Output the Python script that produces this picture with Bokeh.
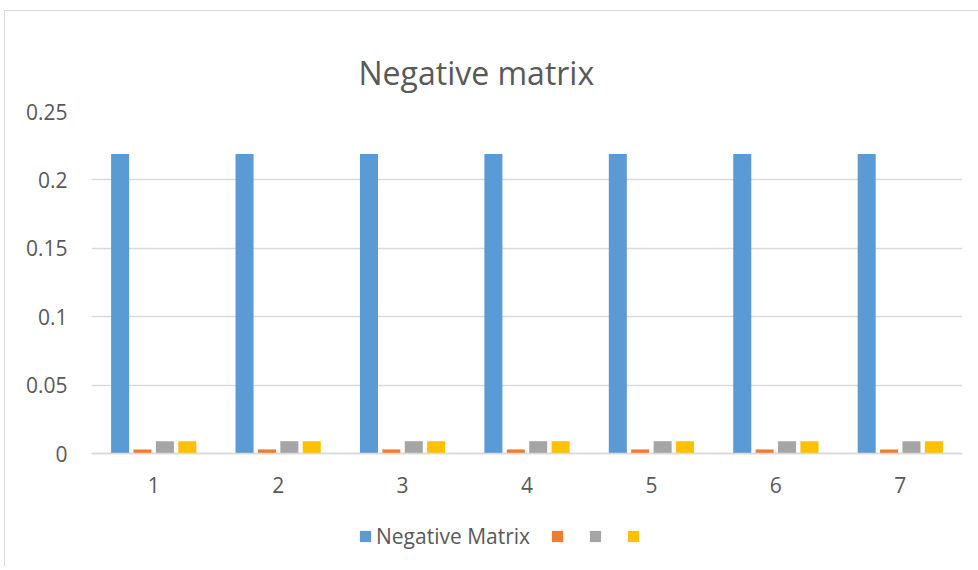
from bokeh.plotting import figure
from bokeh.models import (ColumnDataSource, Legend, LegendItem, FixedTicker,
                          CustomJSTickFormatter)
from bokeh.transform import dodge
from bokeh.embed import file_html
from bokeh.resources import INLINE

# chart data
categories = [1, 2, 3, 4, 5, 6, 7]
negative_matrix = [0.219, 0.219, 0.219, 0.219, 0.219, 0.219, 0.219]
series_2 = [0.003, 0.003, 0.003, 0.003, 0.003, 0.003, 0.003]
series_3 = [0.009, 0.009, 0.009, 0.009, 0.009, 0.009, 0.009]
series_4 = [0.009, 0.009, 0.009, 0.009, 0.009, 0.009, 0.009]
y_ticks = [0, 0.05, 0.1, 0.15, 0.2, 0.25]
series_names = ["Negative Matrix", " ", " ", " "]
colors = ["#5B9BD5", "#ED7D31", "#A5A5A5", "#FFC000"]

FONT = "Open Sans"
TEXT = "#595959"
GRID = "#D9D9D9"

src = ColumnDataSource(dict(x=categories, s1=negative_matrix, s2=series_2,
                            s3=series_3, s4=series_4))

# the frame extends below zero so the category labels and legend live inside it
p = figure(frame_width=871, frame_height=455,
           x_range=(0.5, 7.5), y_range=(-0.0826, 0.25),
           output_backend="svg", toolbar_location=None,
           title="Negative matrix",
           min_border_left=86, min_border_right=17, min_border_top=100,
           min_border_bottom=0,
           margin=(10, 0, 0, 4),
           styles={"border-left": "1px solid #D9D9D9",
                   "border-top": "1px solid #D9D9D9"})

p.title.align = "left"
p.title.text_font = FONT
p.title.text_font_size = "32px"
p.title.text_font_style = "normal"
p.title.text_color = TEXT
p.title.offset = 267
p.title.standoff = 36

offsets = [-0.27, -0.09, 0.09, 0.27]
fields = ["s1", "s2", "s3", "s4"]
renderers = []
for f, off, c in zip(fields, offsets, colors):
    r = p.vbar(x=dodge("x", off), top=f, width=0.145, source=src,
               fill_color=c, line_color=None)
    renderers.append(r)

p.outline_line_color = None
p.background_fill_color = "white"
p.border_fill_color = "white"

# y axis
p.yaxis.ticker = FixedTicker(ticks=y_ticks)
p.yaxis.formatter = CustomJSTickFormatter(code="return String(Math.round(tick*100)/100);")
p.yaxis.axis_line_color = None
p.yaxis.major_tick_line_color = None
p.yaxis.minor_tick_line_color = None
p.yaxis.major_label_text_font = FONT
p.yaxis.major_label_text_font_size = "21px"
p.yaxis.major_label_text_color = TEXT
p.yaxis.major_label_standoff = 18
p.ygrid.grid_line_color = GRID
p.ygrid.grid_line_width = 1.3

# x axis drawn along the zero line
p.xaxis.fixed_location = 0
p.xaxis.ticker = FixedTicker(ticks=categories)
p.xaxis.axis_line_color = GRID
p.xaxis.axis_line_width = 1.5
p.xaxis.major_tick_line_color = None
p.xaxis.minor_tick_line_color = None
p.xaxis.major_label_text_font = FONT
p.xaxis.major_label_text_font_size = "21px"
p.xaxis.major_label_text_color = TEXT
p.xaxis.major_label_standoff = 17
p.xgrid.grid_line_color = None

legend = Legend(items=[LegendItem(label=n, renderers=[r])
                       for n, r in zip(series_names, renderers)],
                orientation="horizontal", location=(267, 16),
                label_text_font=FONT, label_text_font_size="21px",
                label_text_color=TEXT, glyph_width=14, glyph_height=14,
                label_standoff=4, label_width=0, spacing=20,
                border_line_color=None,
                background_fill_alpha=0, margin=0, padding=0)
p.add_layout(legend)

open("out.html", "w").write(file_html(p, INLINE))
